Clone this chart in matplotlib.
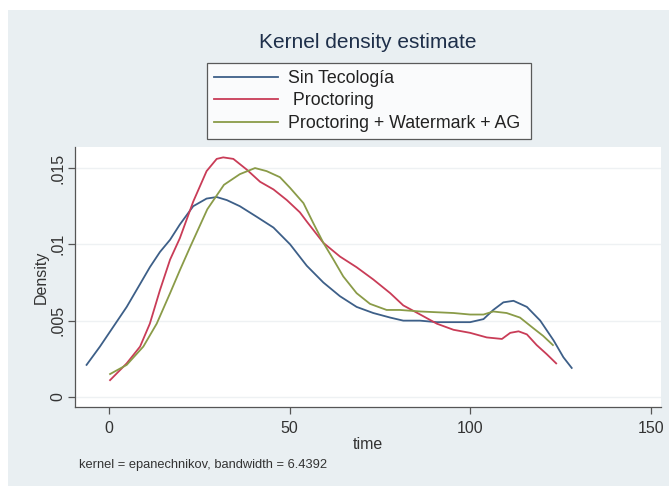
import matplotlib
matplotlib.use("Agg")
import matplotlib.pyplot as plt
from matplotlib.patches import Rectangle

# ---- data ----
blue_x = [-6.2, -2.5, 1.2, 4.9, 8.6, 11.3, 14.1, 16.9, 19.6, 23.3, 27.0, 29.8, 32.6, 36.2,
          40.9, 45.5, 50.1, 54.7, 59.3, 63.9, 68.5, 73.1, 77.8, 81.4, 86.0, 90.7, 96.0,
          99.9, 103.6, 106.3, 109.1, 111.9, 115.6, 119.3, 123.0, 125.7, 128.0]
blue_y = [.0021, .0033, .0046, .0059, .0074, .0085, .0095, .0103, .0113, .0125, .0130, .0131,
          .0129, .0125, .0118, .0111, .0100, .0086, .0075, .0066, .0059, .0055, .0052, .0050,
          .0050, .0049, .0049, .0049, .0051, .0057, .0062, .0063, .0059, .0050, .0037, .0026,
          .0019]

red_x = [0.3, 4.9, 8.6, 11.3, 14.1, 16.9, 19.6, 23.3, 27.0, 29.8, 31.6, 34.4, 38.1, 41.8,
         45.5, 49.2, 52.8, 54.7, 59.3, 63.9, 68.5, 73.1, 77.8, 81.4, 86.1, 90.7, 95.3, 99.9,
         104.5, 108.7, 111.0, 113.3, 115.6, 118.3, 121.1, 123.7]
red_y = [.0011, .0022, .0033, .0048, .0070, .0090, .0104, .0128, .0148, .0156, .0157, .0156,
         .0149, .0141, .0136, .0129, .0121, .0115, .0101, .0092, .0085, .0077, .0068, .0060,
         .0054, .0048, .0044, .0042, .0039, .0038, .0042, .0043, .0041, .0034, .0028, .0022]

green_x = [0.3, 4.9, 9.5, 13.2, 16.9, 19.6, 22.4, 27.2, 31.8, 36.2, 40.4, 43.6, 47.3, 50.1,
           53.8, 56.5, 59.3, 62.1, 64.8, 68.5, 72.2, 76.8, 80.5, 86.1, 95.3, 99.9, 103.6,
           106.3, 110.0, 113.7, 117.4, 120.1, 122.8]
green_y = [.0015, .0021, .0033, .0048, .0068, .0083, .0098, .0123, .0139, .0146, .0150, .0148,
           .0144, .0137, .0127, .0114, .0101, .0090, .0079, .0068, .0061, .0057, .0057, .0056,
           .0055, .0054, .0054, .0056, .0055, .0052, .0045, .0040, .0034]

labels = ["Sin Tecología", " Proctoring", "Proctoring + Watermark + AG"]
x_ticks = [0, 50, 100, 150]
x_ticklabels = ["0", "50", "100", "150"]
y_ticks = [0, 0.005, 0.01, 0.015]
y_ticklabels = ["0", ".005", ".01", ".015"]

plt.rcParams['font.family'] = ['Liberation Sans', 'DejaVu Sans']

W, H = 669, 486
fig = plt.figure(figsize=(W / 100, H / 100), dpi=100)
fig.patch.set_facecolor("white")
bg = "#e9eff2"
fig.add_artist(Rectangle((8 / W, 0), 1 - 8 / W, 1 - 10 / H, transform=fig.transFigure,
                         facecolor=bg, edgecolor="none", zorder=-10))

ax = fig.add_axes([75 / W, 1 - 407 / H, (661 - 75) / W, (407 - 147) / H])
ax.set_facecolor("white")

c_blue, c_red, c_green = "#3d5f88", "#c93c57", "#8a9b48"
l1, = ax.plot(blue_x, blue_y, color=c_blue, lw=1.3)
l2, = ax.plot(red_x, red_y, color=c_red, lw=1.3)
l3, = ax.plot(green_x, green_y, color=c_green, lw=1.3)

ax.set_xlim(-9.4, 152.7)
ax.set_ylim(-0.00066, 0.01638)
ax.set_xticks(x_ticks)
ax.set_xticklabels(x_ticklabels)
ax.set_yticks(y_ticks)
ax.set_yticklabels(y_ticklabels, rotation=90, va="center")
ax.grid(axis="y", color="#eef1f3", lw=1.0)
ax.set_axisbelow(True)
for s in ["top", "right"]:
    ax.spines[s].set_visible(False)
for s in ["left", "bottom"]:
    ax.spines[s].set_color("#555555")
    ax.spines[s].set_linewidth(0.9)
ax.tick_params(axis="x", direction="out", length=5, width=0.9, color="#555555",
               labelsize=11.5, labelcolor="#333333", pad=5)
ax.tick_params(axis="y", direction="out", length=5, width=0.9, color="#555555",
               labelsize=11.5, labelcolor="#333333", pad=2)
ax.set_xlabel("time", fontsize=11.5, color="#333333", labelpad=1)
ax.set_ylabel("Density", fontsize=11.5, color="#333333", labelpad=1)

fig.text(368 / W, 1 - 42 / H, "Kernel density estimate", ha="center", va="center",
         fontsize=15, color="#1e2f4a")
fig.text(79 / W, 1 - 465 / H, "kernel = epanechnikov, bandwidth = 6.4392", ha="left",
         va="center", fontsize=9.3, color="#333333")

leg = fig.legend([l1, l2, l3], labels, loc="upper left",
                 bbox_to_anchor=(207 / W, 1 - 63 / H, (531 - 207) / W, 0.0), mode="expand",
                 frameon=True, fancybox=False, fontsize=12.8, handlelength=3.6,
                 handletextpad=0.55, labelspacing=0.3, borderpad=0.4, borderaxespad=0)
leg.get_frame().set_edgecolor("#333333")
leg.get_frame().set_linewidth(0.9)
for t in leg.get_texts():
    t.set_color("#222222")

fig.savefig("out.png", dpi=100, facecolor=fig.get_facecolor())
